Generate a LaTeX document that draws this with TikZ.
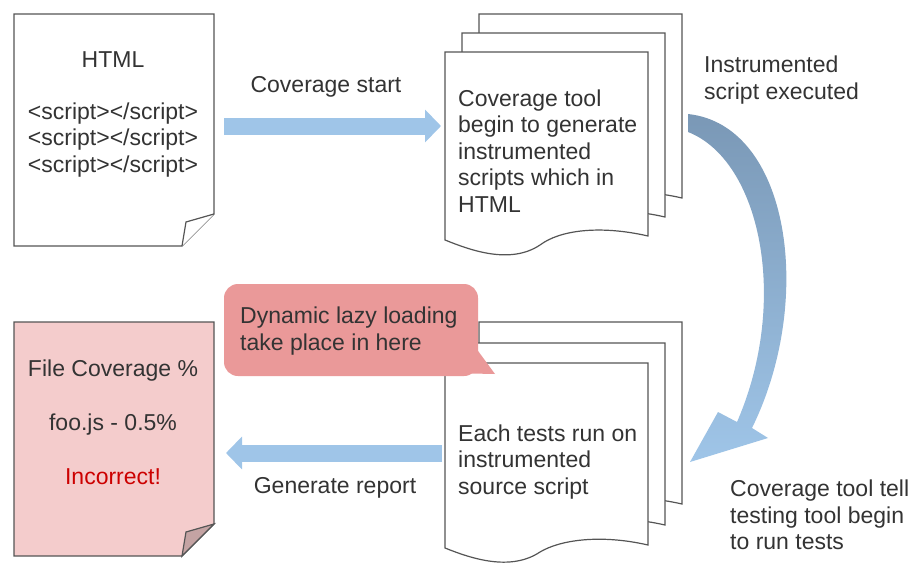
\documentclass[tikz,border=0pt]{standalone}
\usepackage{fontspec}
\setmainfont{Liberation Sans}
\usetikzlibrary{arrows.meta}
\definecolor{txt}{HTML}{333333}
\definecolor{arr}{HTML}{9FC5E8}
\definecolor{dk}{HTML}{7A98B6}
\definecolor{call}{HTML}{EA9999}
\definecolor{pink}{HTML}{F4CCCC}
\definecolor{fold}{HTML}{C4A3A3}
\definecolor{edge}{HTML}{555555}
\begin{document}
\begin{tikzpicture}[x=1pt,y=-1pt,
  lbl/.style={font=\fontsize{23}{26.5}\selectfont,text=txt,align=left,anchor=west,inner sep=0},
  ctr/.style={font=\fontsize{23}{26.5}\selectfont,text=txt,align=center,inner sep=0},
  doc/.style={draw=edge,line width=1.2pt,fill=white},
  bigarrow/.style={draw=arr,line width=17pt,-{Triangle[length=16pt,width=32pt]}}]
\useasboundingbox (0,0) rectangle (921,570);
% HTML document
\draw[doc] (14,14) -- (214,14) -- (214,214) -- (182,246) -- (14,246) -- cycle;
\draw[doc,fill=white] (182,246) -- (186,222) -- (214,214);
\node[ctr] (h) at (113,60) {HTML};
\node[ctr] (s) at (113,140) {<script></script>\\<script></script>\\<script></script>};
% Coverage document
\draw[doc,fill=pink] (14,322) -- (214,322) -- (214,524) -- (182,556) -- (14,556) -- cycle;
\draw[doc,fill=fold] (182,556) -- (186,532) -- (214,524) -- cycle;
\node[ctr] (fc) at (113,371) {File Coverage \%};
\node[ctr] (fj) at (113,425) {foo.js - 0.5\%};
\node[ctr,text=red!80!black] (inc) at (113,477) {Incorrect!};
% top multi doc
\foreach \dx/\dy in {34/-38,17/-19,0/0}{
 \draw[doc,shift={(\dx,\dy)}] (445,52) -- (648,52) -- (648,236) .. controls (600,225) and (560,230) .. (540,245) .. controls (510,265) and (470,250) .. (445,240) -- cycle;}
\node[lbl] (t1) at (458,151) {Coverage tool\\begin to generate\\instrumented\\scripts which in\\HTML};
% bottom multi doc
\foreach \dx/\dy in {34/-41,17/-20,0/0}{
 \draw[doc,shift={(\dx,\dy)}] (445,363) -- (648,363) -- (648,545) .. controls (600,534) and (560,540) .. (540,552) .. controls (510,572) and (470,558) .. (445,548) -- cycle;}
\node[lbl] (t2) at (458,462) {Each tests run on\\instrumented\\source script};
% callout
\fill[call] (300,370) -- (495,374) -- (470,340) -- cycle;
\fill[call,rounded corners=14pt] (224,284) rectangle (478,376);
\node[lbl] (cl) at (240,331) {Dynamic lazy loading\\take place in here};
% arrows
\coordinate (a1) at (224,126); \coordinate (a2) at (441,126);
\draw[bigarrow] (a1) -- (a2);
\node[ctr] (cs) at (326,87) {Coverage start};
\coordinate (b1) at (442,453); \coordinate (b2) at (226,453);
\draw[bigarrow] (b1) -- (b2);
\node[ctr] (gr) at (335,488) {Generate report};
% curved arrow
\shade[top color=dk,bottom color=arr]
 (688,114) .. controls (790,125) and (815,300) .. (752,428)
 -- (768,438) -- (690,462) -- (718,412) -- (737,422)
 .. controls (790,300) and (760,160) .. (688,132) -- cycle;
\node[lbl] (ie) at (704,80) {Instrumented\\script executed};
\node[lbl] (ct) at (730,515) {Coverage tool tell\\testing tool begin\\to run tests};
\end{tikzpicture}
\end{document}
